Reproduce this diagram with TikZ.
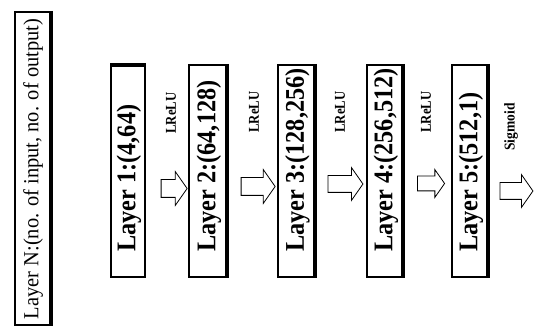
\documentclass[tikz,border=0pt]{standalone}
\usepackage{fontspec}
\setmainfont{Liberation Serif}
\usetikzlibrary{shapes.arrows,calc}

% text set slightly narrow along the reading direction
\newcommand{\narrowtext}[2]{\scalebox{#1}[1]{#2}}

\begin{document}
\begin{tikzpicture}[x=1pt,y=-1pt,
  boxline/.style={draw=black,line width=1.8pt,fill=white},
  heavyedge/.style={line width=4pt,line cap=butt},
  layertext/.style={rotate=90,anchor=west,inner sep=0pt,
    font=\fontsize{27}{30}\selectfont\bfseries},
  actlabel/.style={rotate=90,inner sep=0pt,
    font=\fontsize{15}{17}\selectfont\bfseries},
  flowarrow/.style={single arrow,draw=black,line width=0.8pt,fill=white,
    inner xsep=0pt,inner ysep=8.5pt,single arrow head extend=8pt,
    single arrow head indent=0pt,single arrow tip angle=110,
    shape border rotate=0}
]
\useasboundingbox (0,0) rectangle (534,328);

% legend box on the left
\draw[boxline] (15,12) rectangle (51,325);
\draw[heavyedge] (51,11) -- (51,326);
\node[rotate=90,inner sep=0pt,font=\fontsize{21.5}{24}\selectfont] (legend)
  at (33,169) {\narrowtext{0.95}{Layer N:(no. of input, no. of output)}};

% layer boxes
\foreach \nm/\xa/\xb in {l1/111/145, l2/189/227, l3/278/315, l4/367/403, l5/452/488}{
  \draw[boxline] (\xa,65) rectangle (\xb,277);
  \coordinate (\nm) at ({(\xa+\xb)/2},171);
  \coordinate (\nm-base) at ({(\xa+\xb)/2+1},252);
}
% heavier edges on the boxes
\draw[heavyedge] (110,65) -- (146,65);
\foreach \xb in {227,315,403,488}{
  \draw[heavyedge,line width=3.2pt] (\xb,64) -- (\xb,278);
}

\node[layertext] (t1) at (l1-base) {\narrowtext{0.9}{Layer 1:(4,64)}};
\node[layertext] (t2) at (l2-base) {\narrowtext{0.9}{Layer 2:(64,128)}};
\node[layertext] (t3) at (l3-base) {\narrowtext{0.9}{Layer 3:(128,256)}};
\node[layertext] (t4) at (l4-base) {\narrowtext{0.9}{Layer 4:(256,512)}};
\node[layertext] (t5) at (l5-base) {\narrowtext{0.9}{Layer 5:(512,1)}};

% block arrows between layers
\node[flowarrow,minimum height=26pt] (a1) at (171,188.5) {};
\node[flowarrow,minimum height=34pt] (a2) at (255,186.5) {};
\node[flowarrow,minimum height=35pt,inner ysep=8pt] (a3) at (342.5,184) {};
\node[flowarrow,minimum height=27pt,inner ysep=7pt,single arrow head extend=6.5pt] (a4) at (428.5,183.5) {};
\node[flowarrow,minimum height=33pt,inner ysep=8pt] (a5) at (513.5,191) {};

% activation labels
\node[actlabel] (f1) at (171,113) {\narrowtext{0.85}{LReLU}};
\node[actlabel] (f2) at (254,112) {\narrowtext{0.85}{LReLU}};
\node[actlabel] (f3) at (340,112) {\narrowtext{0.85}{LReLU}};
\node[actlabel] (f4) at (426,112) {\narrowtext{0.85}{LReLU}};
\node[actlabel] (f5) at (511,127) {\narrowtext{0.9}{Sigmoid}};
\end{tikzpicture}
\end{document}
